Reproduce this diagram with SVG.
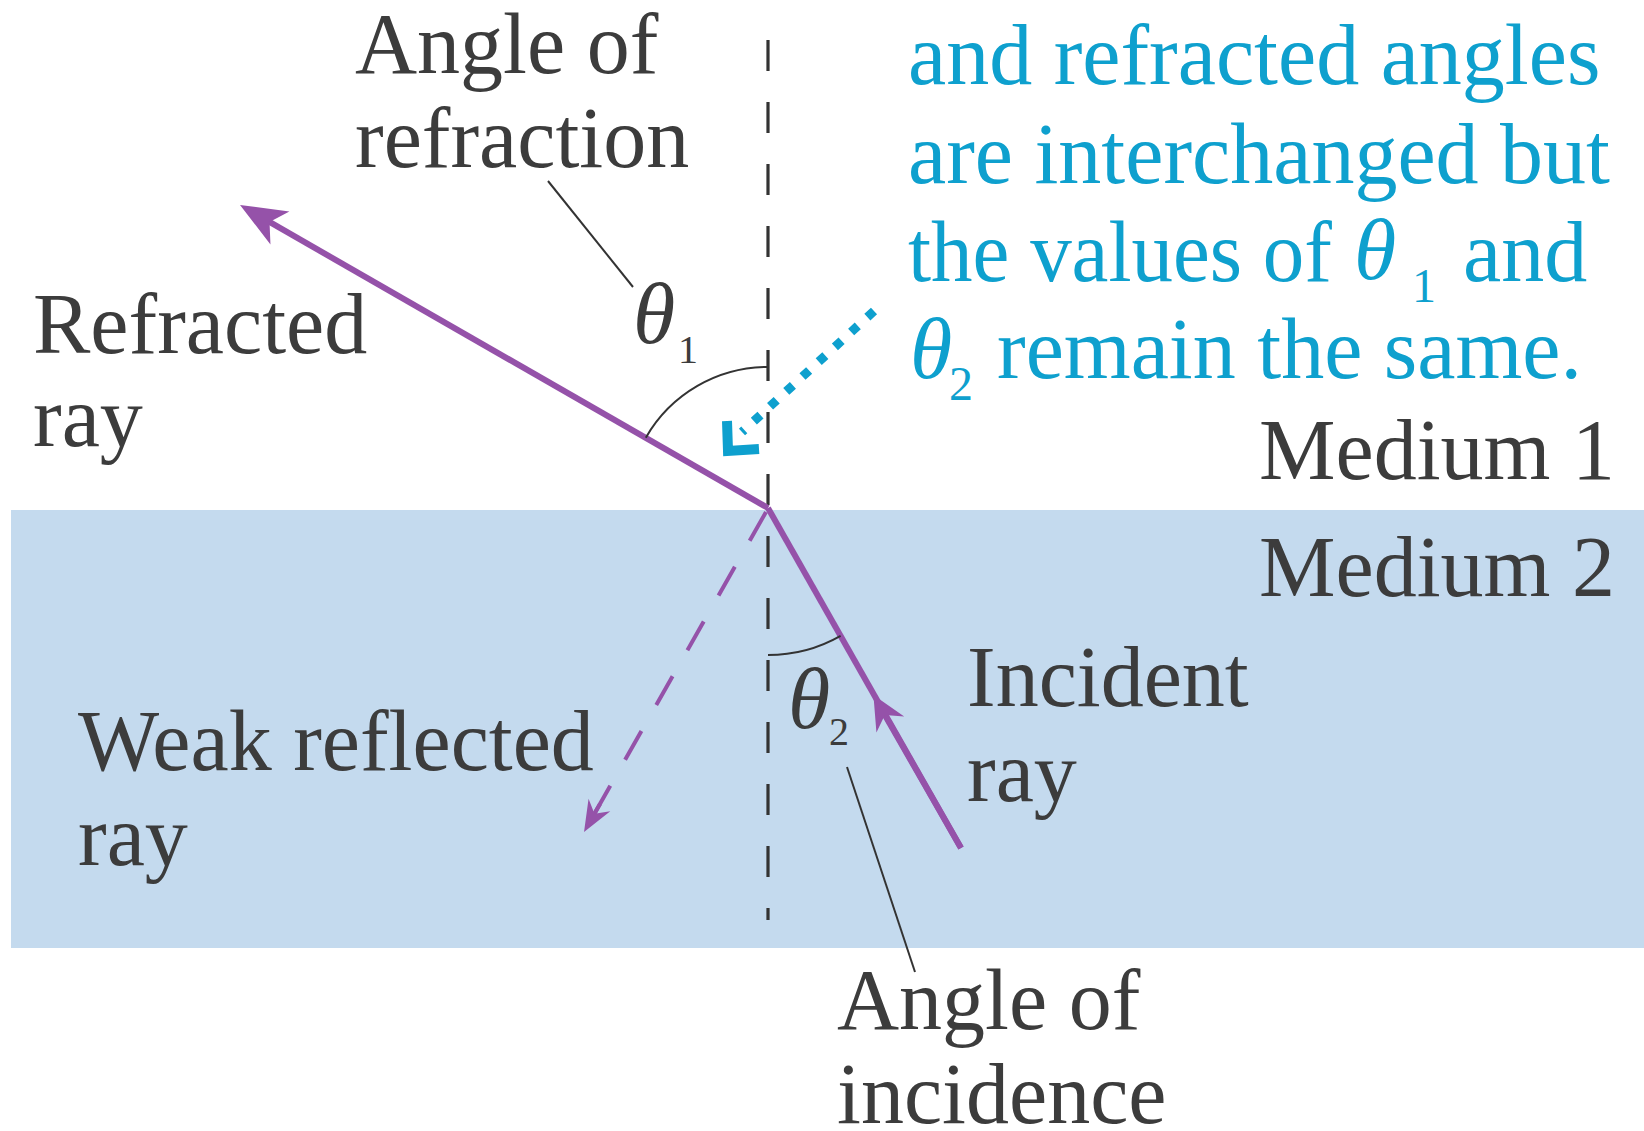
<svg xmlns="http://www.w3.org/2000/svg" width="1644" height="1131" viewBox="0 0 1644 1131">
<style>
text{font-family:'Liberation Serif','DejaVu Serif',serif}
.t{font-size:86px;fill:#3c3c3c}
.b{font-size:86px;fill:#0ea0ce}
.it{font-style:italic}
.ray{stroke:#9552a9;stroke-width:6;fill:none}
.weak{stroke:#9552a9;stroke-width:4;fill:none;stroke-dasharray:33 30}
.normal{stroke:#333;stroke-width:3.2;fill:none;stroke-dasharray:31 31}
.thin{stroke:#333;stroke-width:2;fill:none}
.dot{stroke:#0ea0ce;stroke-width:9;fill:none;stroke-dasharray:9 13}
</style>
<defs>
<marker id="aBig" markerUnits="userSpaceOnUse" orient="auto" refX="-10" refY="0" overflow="visible">
<path d="M0,0 L-46,-19 L-34,0 L-46,19 Z" fill="#9552a9"/>
</marker>
<marker id="aMid" markerUnits="userSpaceOnUse" orient="auto" refX="-8" refY="0" overflow="visible">
<path d="M0,0 L-34,-16 L-23,0 L-34,16 Z" fill="#9552a9"/>
</marker>
<marker id="aSmall" markerUnits="userSpaceOnUse" orient="auto" refX="-8" refY="0" overflow="visible">
<path d="M0,0 L-31,-12.5 L-21,0 L-31,12.5 Z" fill="#9552a9"/>
</marker>
</defs>
<rect id="medium2" x="11" y="510" width="1633" height="438" fill="#c4daee"/>
<g id="connectors">
<line class="normal" x1="768" y1="40" x2="768" y2="920"/>
<line id="refracted" class="ray" x1="768" y1="508" x2="248.7" y2="210" marker-end="url(#aBig)"/>
<line class="ray" x1="961" y1="848" x2="768" y2="508"/>
<line id="incident" class="ray" x1="961" y1="848" x2="877.4" y2="702" marker-end="url(#aMid)"/>
<line id="reflected" class="weak" x1="766" y1="512" x2="588" y2="825"/>
<line x1="600" y1="804" x2="588" y2="825" stroke="#9552a9" stroke-width="4" marker-end="url(#aSmall)"/>
<path class="thin" d="M768,367 A141,141 0 0,0 645.8,437.7"/>
<path class="thin" d="M768,655 A147,147 0 0,0 840.6,635.8"/>
<line class="thin" x1="548" y1="181" x2="633" y2="287"/>
<line class="thin" x1="847" y1="767" x2="915" y2="972"/>
<line class="dot" x1="874" y1="311" x2="742" y2="432"/>
<path d="M727,421 L728,451 L759,449" fill="none" stroke="#0ea0ce" stroke-width="10" stroke-linejoin="miter"/>
</g>
<g id="label-angle-refraction">
<text class="t" x="355" y="73">Angle of</text>
<text class="t" x="355" y="167">refraction</text>
</g>
<g id="label-theta1">
<text class="t"><tspan class="it" x="633" y="343">θ</tspan><tspan x="678" y="363" font-size="40">1</tspan></text>
</g>
<g id="label-refracted">
<text class="t" x="33" y="353">Refracted</text>
<text class="t" x="33" y="446">ray</text>
</g>
<g id="label-weak">
<text class="t" x="78" y="770">Weak reflected</text>
<text class="t" x="78" y="865">ray</text>
</g>
<g id="label-theta2">
<text class="t"><tspan class="it" x="788" y="728">θ</tspan><tspan x="829" y="745" font-size="40">2</tspan></text>
</g>
<g id="label-incident">
<text class="t" x="967" y="706">Incident</text>
<text class="t" x="967" y="801">ray</text>
</g>
<g id="label-angle-incidence">
<text class="t" x="837" y="1029">Angle of</text>
<text class="t" x="837" y="1123">incidence</text>
</g>
<g id="label-media">
<text class="t" x="1259" y="479">Medium 1</text>
<text class="t" x="1259" y="596">Medium 2</text>
</g>
<g id="note">
<text class="b" x="908" y="84">and refracted angles</text>
<text class="b" x="908" y="183">are interchanged but</text>
<text class="b"><tspan x="908" y="281" textLength="424" lengthAdjust="spacingAndGlyphs">the values of</tspan><tspan class="it" x="1354" y="279">θ</tspan><tspan x="1412" y="302" font-size="48">1</tspan><tspan x="1463" y="281">and</tspan></text>
<text class="b"><tspan class="it" x="910" y="378">θ</tspan><tspan x="949" y="400" font-size="48">2</tspan><tspan x="997" y="378">remain the same.</tspan></text>
</g>
</svg>
